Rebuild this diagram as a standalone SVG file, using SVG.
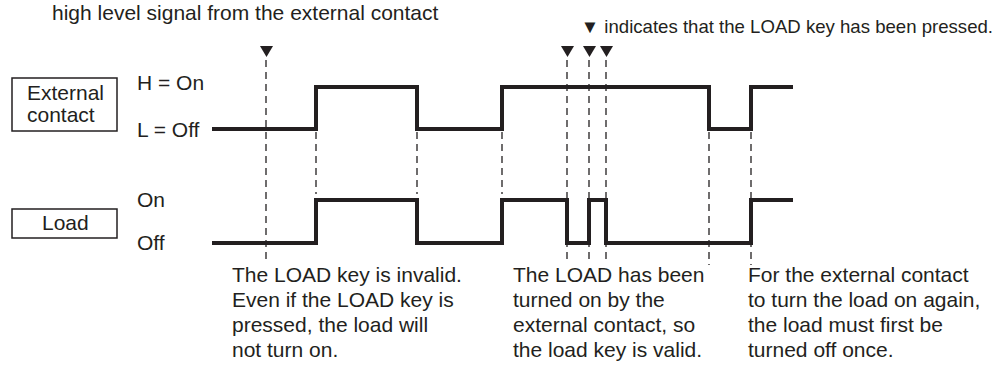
<svg xmlns="http://www.w3.org/2000/svg" width="1002" height="367" viewBox="0 0 1002 367">
<style>
text{font-family:"Liberation Sans",Arial,sans-serif;font-size:21px;fill:#231f20}
.legend{font-size:18.6px}
.box{fill:#fff;stroke:#231f20;stroke-width:1.5}
.wave{fill:none;stroke:#231f20;stroke-width:4;stroke-linejoin:miter}
.dash{stroke:#231f20;stroke-width:1.3;stroke-dasharray:7 5;fill:none}
.press{fill:#231f20}
</style>
<rect width="1002" height="367" fill="#fff"/>
<text x="52" y="20">high level signal from the external contact</text>
<text class="legend" x="993" y="33" text-anchor="end">▼ indicates that the LOAD key has been pressed.</text>

<g id="connectors">
<line class="dash" x1="266" y1="60" x2="266" y2="260"/>
<line class="dash" x1="567" y1="60" x2="567" y2="260"/>
<line class="dash" x1="589" y1="60" x2="589" y2="260"/>
<line class="dash" x1="606" y1="60" x2="606" y2="260"/>
<line class="dash" x1="316" y1="132" x2="316" y2="194"/>
<line class="dash" x1="417" y1="132" x2="417" y2="194"/>
<line class="dash" x1="502" y1="132" x2="502" y2="194"/>
<line class="dash" x1="709" y1="132" x2="709" y2="265"/>
<line class="dash" x1="751" y1="132" x2="751" y2="265"/>
<polygon class="press" points="260,46 273,46 266.5,57"/>
<polygon class="press" points="561,46 574,46 567.5,57"/>
<polygon class="press" points="583,46 596,46 589.5,57"/>
<polygon class="press" points="600,46 613,46 606.5,57"/>
<path class="wave" d="M212,129 H316 V87 H417 V129 H502 V87 H709 V129 H751 V87 H793"/>
<path class="wave" d="M212,243 H316 V200 H417 V243 H502 V200 H567 V243 H589 V200 H606 V243 H751 V200 H793"/>
</g>

<g id="external-contact">
<rect class="box" x="12" y="78" width="105" height="53"/>
<text x="27" y="100">External</text>
<text x="27" y="122">contact</text>
<text x="137" y="90">H = On</text>
<text x="137" y="137">L = Off</text>
</g>

<g id="load">
<rect class="box" x="12" y="209" width="105" height="29"/>
<text x="42" y="230">Load</text>
<text x="137" y="207">On</text>
<text x="137" y="250">Off</text>
</g>

<g id="note-invalid">
<text x="232" y="282">The LOAD key is invalid.</text>
<text x="232" y="307">Even if the LOAD key is</text>
<text x="232" y="332">pressed, the load will</text>
<text x="232" y="357">not turn on.</text>
</g>

<g id="note-valid">
<text x="513" y="282">The LOAD has been</text>
<text x="513" y="307">turned on by the</text>
<text x="513" y="332">external contact, so</text>
<text x="513" y="357">the load key is valid.</text>
</g>

<g id="note-again">
<text x="748" y="282">For the external contact</text>
<text x="748" y="307">to turn the load on again,</text>
<text x="748" y="332">the load must first be</text>
<text x="748" y="357">turned off once.</text>
</g>
</svg>
